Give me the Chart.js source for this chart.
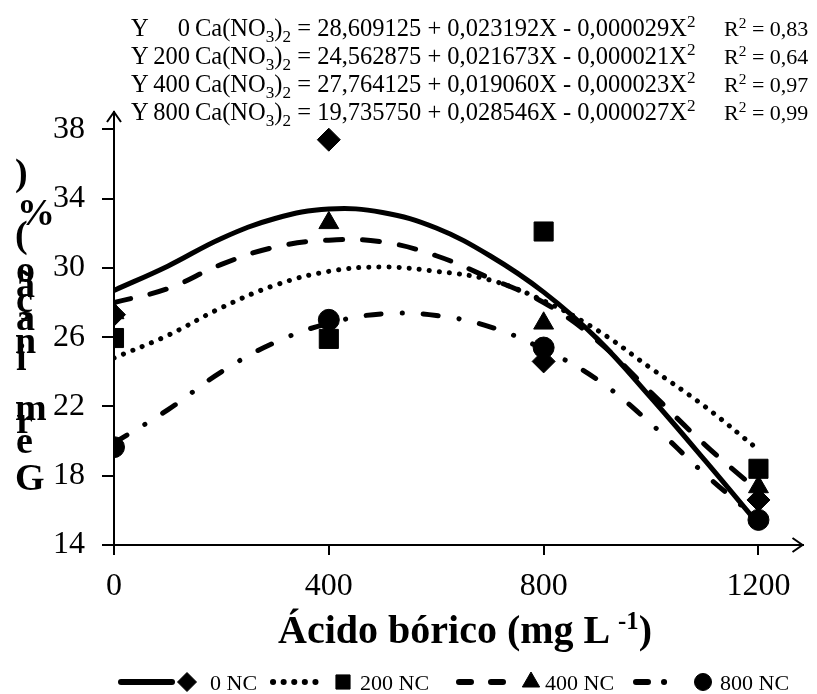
<!DOCTYPE html>
<html>
<head>
<meta charset="utf-8">
<script src="https://cdn.jsdelivr.net/npm/chart.js@4"></script>
<style>
  html, body { margin:0; padding:0; background:#fff; }
  #wrap { position:relative; width:817px; height:694px; overflow:hidden; font-family:"Liberation Serif","Times New Roman",serif; color:#000; }
  canvas { position:absolute; left:0; top:0; }
  .abs { position:absolute; white-space:nowrap; line-height:1; }
  .eq { font-size:24.5px; }
  .eqr { font-size:22px; }
  .eq sub, .eq sup, .eqr sup { font-size:0.7em; line-height:0; }
  .yt { font-size:38px; font-weight:bold; }
  .xt { font-size:40px; font-weight:bold; }
  .xt sup { font-size:0.62em; line-height:0; }
  .lg { font-size:22px; }
</style>
</head>
<body>
<div id="wrap">
<canvas id="c" width="817" height="694"></canvas>
</div>
<script>
// ---- data ----
const xTicks = [0, 400, 800, 1200];
const yTicks = [14, 18, 22, 26, 30, 34, 38];
const doses = [0, 400, 800, 1200];
const obs0NC   = [27.3, 37.4, 24.6, 16.6];
const obs200NC = [25.95, 25.9, 32.1, 18.4];
const obs400NC = [27.4, 32.6, 26.8, 17.35];
const obs800NC = [19.65, 27.0, 25.4, 15.45];
const curveX = [0, 100, 200, 300, 400, 500, 600, 700, 800, 900, 1000, 1100, 1200];
const fit0NC   = [28.7, 30.1, 31.7, 32.85, 33.4, 33.2, 32.3, 30.7, 28.6, 25.9, 22.5, 18.9, 15.2];
const fit200NC = [24.8, 26.1, 27.7, 29.0, 29.8, 30.05, 29.8, 29.3, 28.1, 26.4, 24.2, 22.0, 19.5];
const fit400NC = [28.0, 28.8, 30.2, 31.2, 31.6, 31.5, 30.7, 29.4, 28.0, 25.8, 22.8, 19.8, 17.1];
const fit800NC = [19.9, 21.8, 24.0, 25.7, 26.8, 27.35, 27.25, 26.6, 25.3, 23.55, 21.0, 18.1, 15.45];
const seriesNames = ['0 NC', '200 NC', '400 NC', '800 NC'];
const eqDose = ['0', '200', '400', '800'];
const eqText = [
  ['28,609125', '0,023192X', '0,000029X', '0,83'],
  ['24,562875', '0,021673X', '0,000021X', '0,64'],
  ['27,764125', '0,019060X', '0,000023X', '0,97'],
  ['19,735750', '0,028546X', '0,000027X', '0,99']
];
const xTitle = 'Ácido bórico (mg L ';
const yTitle = 'Germinação (%)';

// ---- styles ----
const lineStyles = [
  { dash: [], legendDash: [], cap: 'round' },
  { dash: [0.1, 10], legendDash: [0.1, 10.5], cap: 'round' },
  { dash: [17, 20], legendDash: [12, 20], cap: 'round' },
  { dash: [15, 21, 0.1, 21], legendDash: [12, 16, 0.1, 30], cap: 'round' }
];
const markers = [
  { style: 'rectRot', r: 11.5 },
  { style: 'rect', r: 13.5 },
  { style: 'triangle', r: 11.5 },
  { style: 'circle', r: 10.5 }
];
const fits = [fit0NC, fit200NC, fit400NC, fit800NC];
const obs = [obs0NC, obs200NC, obs400NC, obs800NC];

const datasets = [];
fits.forEach((f, i) => {
  datasets.push({
    type: 'line',
    label: seriesNames[i] + ' fit',
    data: curveX.map((x, k) => ({ x: x, y: f[k] })),
    borderColor: '#000',
    borderWidth: 5,
    borderDash: lineStyles[i].dash,
    borderCapStyle: lineStyles[i].cap,
    pointRadius: 0,
    tension: 0.4,
    fill: false
  });
});
obs.forEach((o, i) => {
  datasets.push({
    type: 'scatter',
    label: seriesNames[i],
    data: doses.map((x, k) => ({ x: x, y: o[k] })),
    backgroundColor: '#000',
    borderColor: '#000',
    borderWidth: 1,
    pointStyle: markers[i].style,
    pointRadius: markers[i].r,
    showLine: false
  });
});

const arrowPlugin = {
  id: 'arrows',
  afterDraw(chart) {
    const { ctx, chartArea } = chart;
    const { left, right, top, bottom } = chartArea;
    ctx.save();
    ctx.strokeStyle = '#000';
    ctx.lineWidth = 2;
    ctx.beginPath();
    ctx.moveTo(left - 7, top + 10); ctx.lineTo(left, top); ctx.lineTo(left + 7, top + 10);
    ctx.stroke();
    ctx.beginPath();
    ctx.moveTo(right - 10, bottom - 7); ctx.lineTo(right, bottom); ctx.lineTo(right - 10, bottom + 7);
    ctx.stroke();
    ctx.restore();
  }
};

// legend samples (lines + markers), text is HTML
const legendPos = [
  { x1: 121, x2: 172, mx: 187 },
  { x1: 273, x2: 318, mx: 343 },
  { x1: 459, x2: 503, mx: 531 },
  { x1: 636, x2: 683, mx: 703 }
];
const legendMarkerR = [9.5, 10, 10, 8.5];
const legendY = 682;
const legendPlugin = {
  id: 'legendSamples',
  afterDraw(chart) {
    const ctx = chart.ctx;
    legendPos.forEach((p, i) => {
      ctx.save();
      ctx.strokeStyle = '#000';
      ctx.lineWidth = 6;
      ctx.lineCap = lineStyles[i].cap;
      ctx.setLineDash(lineStyles[i].legendDash);
      ctx.beginPath();
      ctx.moveTo(p.x1, legendY); ctx.lineTo(p.x2, legendY);
      ctx.stroke();
      ctx.restore();
      ctx.save();
      ctx.fillStyle = '#000'; ctx.strokeStyle = '#000'; ctx.lineWidth = 1;
      Chart.helpers.drawPoint(ctx, { pointStyle: markers[i].style, radius: legendMarkerR[i], rotation: 0, borderWidth: 1 }, p.mx, legendY);
      ctx.restore();
    });
  }
};

new Chart(document.getElementById('c'), {
  data: { datasets: datasets },
  options: {
    responsive: false,
    animation: false,
    devicePixelRatio: 1,
    layout: { padding: { left: 0, right: 13, top: 112, bottom: 0 } },
    plugins: { legend: { display: false }, tooltip: { enabled: false }, title: { display: false } },
    scales: {
      x: {
        type: 'linear', min: 0, max: 1282,
        afterBuildTicks: (s) => { s.ticks = xTicks.map(v => ({ value: v })); },
        afterFit: (s) => { s.height = 149; },
        border: { display: true, color: '#000', width: 2 },
        grid: { drawOnChartArea: false, drawTicks: true, tickLength: 10, color: '#000', lineWidth: 2 },
        ticks: { color: '#000', padding: 12, font: { family: 'Liberation Serif', size: 32 }, maxRotation: 0, callback: (v) => String(v) }
      },
      y: {
        type: 'linear', min: 14, max: 39,
        afterBuildTicks: (s) => { s.ticks = yTicks.map(v => ({ value: v })); },
        afterFit: (s) => { s.width = 114; },
        border: { display: true, color: '#000', width: 2 },
        grid: { drawOnChartArea: false, drawTicks: true, tickLength: 12, color: '#000', lineWidth: 2 },
        ticks: { color: '#000', padding: 17, font: { family: 'Liberation Serif', size: 32 }, callback: (v) => String(v) }
      }
    }
  },
  plugins: [arrowPlugin, legendPlugin]
});

// ---- HTML text ----
const wrap = document.getElementById('wrap');
function addDiv(cls, html, left, top, extra) {
  const d = document.createElement('div');
  d.className = 'abs ' + cls;
  d.innerHTML = html;
  d.style.left = left + 'px';
  d.style.top = top + 'px';
  if (extra) Object.assign(d.style, extra);
  wrap.appendChild(d);
  return d;
}
// equations
const eqBaselines = [36, 64, 92, 120];
eqText.forEach((t, i) => {
  const top = eqBaselines[i] - 20.5;
  addDiv('eq', 'Y', 131, top);
  addDiv('eq', eqDose[i], 150, top, { width: '40px', textAlign: 'right' });
  addDiv('eq', 'Ca(NO<sub>3</sub>)<sub>2</sub> = ' + t[0] + ' + ' + t[1] + ' - ' + t[2] + '<sup>2</sup>', 195, top);
  addDiv('eqr', 'R<sup>2</sup> = ' + t[3], 724, eqBaselines[i] - 18.4);
});
// y title: characters stacked bottom-to-top, upright
const yChars = Array.from(yTitle).reverse().filter(c => c !== ' ');
const yBase = [185, 225, 247, 282, 297, 312, 330, 353, 370, 420, 433, 453, 490];
const yLeft = [15, 17, 15, 16, 16, 16, 16, 15, 16, 15, 16, 16, 15];
yChars.forEach((c, i) => {
  addDiv('yt', c, yLeft[i], yBase[i] - 31.8);
});
// x title
addDiv('xt', xTitle + '<sup>-1</sup>)', 465, 643 - 33.5, { transform: 'translateX(-50%)' });
// legend text
const legendTextX = [210, 360, 545, 720];
seriesNames.forEach((n, i) => addDiv('lg', n, legendTextX[i], 690 - 18.4));
</script>
</body>
</html>
